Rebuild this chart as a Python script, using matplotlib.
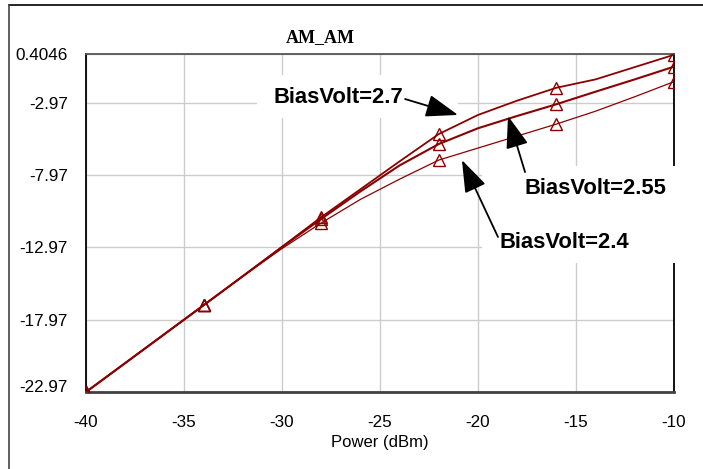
import matplotlib
matplotlib.use("Agg")
import matplotlib.pyplot as plt
from matplotlib.patches import Rectangle
from matplotlib.lines import Line2D

plt.rcParams['axes.unicode_minus'] = False
plt.rcParams['font.family'] = ['Liberation Sans', 'DejaVu Sans']

# Data
power = [-40, -38, -36, -34, -32, -30, -28, -26, -24, -22, -20, -18, -16, -14, -12, -10]
out_27 = [-22.97, -20.97, -18.97, -16.97, -14.96, -12.93, -10.88, -8.95, -7.02, -5.13,
          -3.81, -2.82, -1.93, -1.35, -0.50, 0.35]
out_255 = [-22.97, -20.97, -18.97, -16.97, -14.96, -12.95, -11.00, -9.10, -7.30, -5.82,
           -4.73, -3.88, -3.07, -2.20, -1.35, -0.47]
out_24 = [-22.97, -20.97, -18.97, -16.97, -14.97, -13.05, -11.28, -9.65, -8.25, -6.93,
          -6.10, -5.27, -4.44, -3.55, -2.55, -1.51]
labels = ['BiasVolt=2.7', 'BiasVolt=2.55', 'BiasVolt=2.4']
xticks = [-40, -35, -30, -25, -20, -15, -10]
yticks = [-22.97, -17.97, -12.97, -7.97, -2.97, 0.4046]
ytick_labels = ['-22.97', '-17.97', '-12.97', '-7.97', '-2.97', '0.4046']

W, H = 703, 469
fig = plt.figure(figsize=(W / 100, H / 100), dpi=100)
ax = fig.add_axes([86 / W, 1 - 392 / H, (674 - 86) / W, (392 - 54) / H])

red = '#8b0000'
ax.plot(power, out_27, color=red, lw=1.3, marker='^', markevery=3, ms=8,
        mfc='none', mec=red, mew=1.0, zorder=4)
ax.plot(power, out_255, color=red, lw=1.5, marker='^', markevery=3, ms=8,
        mfc='none', mec=red, mew=1.0, zorder=4)
ax.plot(power, out_24, color=red, lw=0.9, marker='^', markevery=3, ms=8,
        mfc='none', mec=red, mew=1.0, zorder=4)

ax.set_xlim(-40, -10)
ax.set_ylim(-22.97, 0.4046)
ax.set_xticks(xticks)
ax.set_xticklabels([str(t) for t in xticks])
ax.set_yticks(yticks)
ax.set_yticklabels(ytick_labels)
ax.tick_params(axis='both', length=0, labelsize=12.3, colors='black')
ax.tick_params(axis='y', pad=13)
ax.tick_params(axis='x', pad=16.5)
ax.get_yticklabels()[0].set_va('baseline')
ax.grid(True, color='#cccccc', lw=1.0)
ax.set_axisbelow(True)
for s in ['left', 'right']:
    ax.spines[s].set_color('black')
    ax.spines[s].set_linewidth(1.3)
ax.spines['top'].set_color('#555555')
ax.spines['top'].set_linewidth(1.3)
ax.spines['bottom'].set_color('#404040')
ax.spines['bottom'].set_linewidth(2.0)
ax.set_xlabel('Power (dBm)', fontsize=12, labelpad=4)

# White label boxes hiding the grid
ax.add_patch(Rectangle((-31.28, -4.02), 10.26, 2.97, facecolor='white',
                       edgecolor='none', zorder=3))
ax.add_patch(Rectangle((-19.8, -14.05), 10.4, 6.71, facecolor='white',
                       edgecolor='none', zorder=3, clip_on=False))

fig.text(320 / W, 1 - 38 / H, 'AM_AM', ha='center', va='center',
         fontsize=13, fontweight='bold', family='Liberation Serif')

arrow = dict(arrowstyle='-|>,head_length=1.0,head_width=0.35', color='black',
             lw=1.3, mutation_scale=20, shrinkA=0, shrinkB=0)
tprops = dict(fontsize=15.8, fontweight='bold', ha='center', va='center', zorder=6)
ax.annotate('', xy=(-21.02, -3.81), xytext=(-23.72, -2.71), arrowprops=arrow, zorder=5)
ax.annotate('', xy=(-18.47, -3.88), xytext=(-17.6, -7.76), arrowprops=arrow, zorder=5)
ax.annotate('', xy=(-20.82, -6.93), xytext=(-18.98, -12.25), arrowprops=arrow, zorder=5)
ax.text(-27.12, -2.57, labels[0], **tprops)
ax.text(-14.0, -8.93, labels[1], **tprops)
ax.text(-15.59, -12.60, labels[2], **tprops)

# Outer frame lines (top and left)
fig.add_artist(Line2D([8.5 / W, 1.0], [1 - 5 / H, 1 - 5 / H], color='black', lw=1.2))
fig.add_artist(Line2D([8.5 / W, 8.5 / W], [0, 1 - 5 / H], color='#444444', lw=1.2))

fig.savefig('out.png', dpi=100)
